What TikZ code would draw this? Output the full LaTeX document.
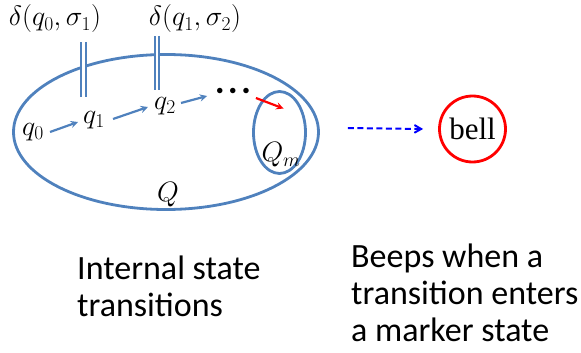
\RequirePackage{fix-cm}
\documentclass[tikz,border=0pt]{standalone}
\usepackage{xcolor}
\usepackage{amsmath}
\usepackage{fontspec}
\newfontfamily\calib{Carlito}
\newfontfamily\timesf{Liberation Serif}
\usepackage{tikz}
\usetikzlibrary{shapes.geometric, arrows, positioning}
\definecolor{setblue}{HTML}{4F81BD}

\begin{document}
\begin{tikzpicture}[x=1pt, y=-1pt, every node/.style={inner sep=0pt, font=\fontsize{28}{32}\selectfont},
  setline/.style={draw=setblue, line width=2.8pt},
  trans/.style={->, >=stealth, draw=setblue, line width=2.2pt},
  dbl/.style={draw=setblue, line width=2.2pt, double=white, double distance=2.2pt},
  note/.style={align=left, anchor=north west, font=\calib\fontsize{34}{37}\selectfont}]
  \useasboundingbox (0,0) rectangle (581,353);

  \node (Qset) [setline, ellipse, minimum width=305pt, minimum height=155pt] at (166,132) {};
  \node (Qm) [setline, ellipse, minimum width=52pt, minimum height=82pt] at (279.5,132.5) {};
  \node (Qlab) at (168,195) {$Q$};
  \node (Qmlab) at (281,155) {$Q_m$};

  \node (q0) at (33,132) {$q_0$};
  \node (q1) at (94,120) {$q_1$};
  \node (q2) at (165,106) {$q_2$};
  \node (dots) [font=\fontsize{14}{16}\selectfont] at (233,91) {$\bullet\mkern4mu\bullet\mkern4mu\bullet$};

  \node (d1) at (55,19) {$\delta(q_0,\sigma_1)$};
  \node (d2) at (195,19) {$\delta(q_1,\sigma_2)$};
  \coordinate (t1) at (83.5,42);
  \coordinate (b1) at (83.5,97);
  \coordinate (t2) at (157,36);
  \coordinate (b2) at (157,90);

  \node (bell) [draw=red, line width=2.8pt, circle, minimum size=66pt, font=\timesf\fontsize{31}{34}\selectfont] at (472.5,129) {bell};

  \node (txt1) [note] at (77,256) {Internal state\\transitions};
  \node (txt2) [note] at (351,244) {Beeps when a\\transition enters\\a marker state};

  \draw [trans] ([xshift=6pt]q0.east) -- ([shift={(-5,2)}]q1.west);
  \draw [trans] ([shift={(8,-1)}]q1.east) -- ([shift={(-6,1)}]q2.west);
  \draw [trans] ([shift={(5,-3)}]q2.east) -- ([shift={(-9,5)}]dots.west);
  \draw [->, >=stealth, draw=red, line width=2.2pt] ([shift={(6,7)}]dots.east) -- ([shift={(4,-24)}]Qm.center);
  \draw [dbl] (t1) -- (b1);
  \draw [dbl] (t2) -- (b2);
  \draw [->, >=angle 60, draw=blue, line width=2pt, dash pattern=on 6pt off 3.5pt] ([shift={(28,-4)}]Qset.east) -- ([xshift=-15pt]bell.west);
\end{tikzpicture}
\end{document}
